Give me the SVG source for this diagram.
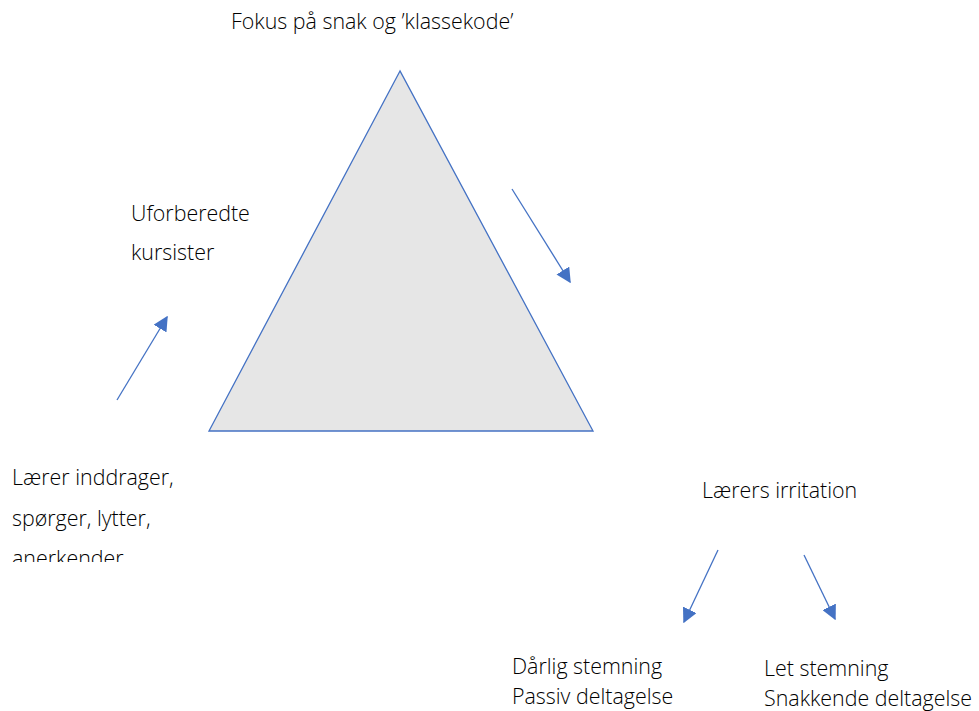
<svg xmlns="http://www.w3.org/2000/svg" width="979" height="711" viewBox="0 0 979 711">
<style>
text{font-family:"Open Sans","Liberation Sans",sans-serif;font-weight:300;font-size:21.4px;fill:#000}
.ln{stroke:#4472c4;stroke-width:1.3;fill:none}
</style>
<defs>
<marker id="ah2" viewBox="0 0 10 10" refX="9" refY="5" markerWidth="15" markerHeight="15" markerUnits="userSpaceOnUse" orient="auto"><path d="M0,0L10,5L0,10Z" fill="#4472c4"/></marker>
<clipPath id="c1"><rect x="0" y="450" width="300" height="112"/></clipPath>
</defs>
<g id="triangle"><polygon points="400,71 209,431 593,431" fill="#e6e6e6" stroke="#4472c4" stroke-width="1.3"/></g>
<g id="top"><text x="231" y="29">Fokus på snak og ’klassekode’</text></g>
<g id="uforberedte"><text x="131" y="221">Uforberedte</text><text x="131" y="260">kursister</text></g>
<g id="laerer" clip-path="url(#c1)"><text x="12" y="485">Lærer inddrager,</text><text x="12" y="526">spørger, lytter,</text><text x="12" y="566">anerkender</text></g>
<g id="irritation"><text x="702" y="498">Lærers irritation</text></g>
<g id="daarlig"><text x="512" y="674">Dårlig stemning</text><text x="512" y="704">Passiv deltagelse</text></g>
<g id="let"><text x="764" y="676">Let stemning</text><text x="764" y="706">Snakkende deltagelse</text></g>
<g id="connectors">
<line class="ln" x1="117" y1="400" x2="167" y2="317" marker-end="url(#ah2)"/>
<line class="ln" x1="512" y1="189" x2="570" y2="282" marker-end="url(#ah2)"/>
<line class="ln" x1="718" y1="550" x2="684" y2="622" marker-end="url(#ah2)"/>
<line class="ln" x1="804" y1="555" x2="835" y2="619" marker-end="url(#ah2)"/>
</g>
</svg>
